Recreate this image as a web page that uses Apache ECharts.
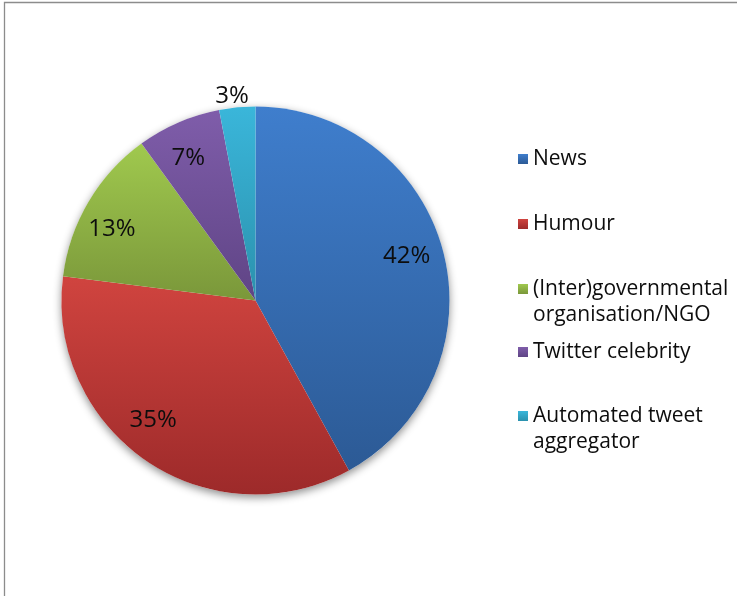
<!DOCTYPE html>
<html>
<head>
<meta charset="utf-8">
<script src="https://cdn.jsdelivr.net/npm/echarts@6/dist/echarts.min.js"></script>
<style>
  html, body { margin: 0; padding: 0; background: #fff; overflow: hidden; }
  #chart { width: 737px; height: 596px; }
</style>
</head>
<body>
<div id="chart"></div>
<script>
// Account types and their share of the sample (%)
const categories = [
  'News',
  'Humour',
  '(Inter)governmental\norganisation/NGO',
  'Twitter celebrity',
  'Automated tweet\naggregator'
];
const shares = [42, 35, 13, 7, 3];

// Slice fills: vertical gradient, lighter at the top of each slice
const sliceTop = ['#3f7ecd', '#d0443f', '#a0c94e', '#7f5daa', '#3ab6da'];
const sliceBottom = ['#2c5a95', '#9d2a2a', '#7a973a', '#5f4485', '#2b91ad'];

// Pie geometry
const CX = 255.5, CY = 300.5, R = 194;

// Percentage labels: distance from the centre (fraction of R) and small nudges
const labelDist = [0.81, 0.81, 0.83, 0.82, 1.067];
const labelNudge = [[-1, -5], [-14, -10], [-5, 11], [-4, 4], [-4, 2]];

// Legend rows: top edge of each entry
const legendTops = [146, 211, 250, 339, 377];

const total = shares.reduce((a, b) => a + b, 0);
const starts = [];
shares.reduce((acc, v) => { starts.push(acc); return acc + v; }, 0);

function sliceFill(i) {
  return new echarts.graphic.LinearGradient(0, 0, 0, 1, [
    { offset: 0, color: sliceTop[i] },
    { offset: 1, color: sliceBottom[i] }
  ]);
}

const pieData = categories.map((name, i) => ({
  name: name,
  value: shares[i],
  itemStyle: { color: sliceFill(i) },
  label: { position: shares[i] < 5 ? 'outside' : 'inside' }
}));

const textFont = { fontFamily: 'Open Sans', color: '#0d0d0d' };

// Wrapped entries keep their marker level with the first line of text
function legendText(name) {
  return name.indexOf('\n') >= 0 ? '\n' + name : name;
}

const legends = categories.map((name, i) => ({
  show: true,
  orient: 'vertical',
  left: 518,
  top: legendTops[i],
  padding: 0,
  itemWidth: 10,
  itemHeight: 10,
  icon: 'rect',
  selectedMode: false,
  formatter: legendText,
  textStyle: Object.assign({ fontSize: 21, lineHeight: 26 }, textFont),
  data: [name]
}));

const chart = echarts.init(document.getElementById('chart'), null, { renderer: 'canvas' });

chart.setOption({
  backgroundColor: '#ffffff',
  animation: false,
  graphic: [{
    type: 'rect',
    silent: true,
    shape: { x: 4.5, y: 2.5, width: 800, height: 700 },
    style: { fill: 'none', stroke: '#8c8c8c', lineWidth: 1.3 }
  }],
  legend: legends,
  series: [
    {
      // soft drop shadow under the whole pie
      type: 'pie',
      silent: true,
      z: 1,
      center: [CX, CY],
      radius: R,
      label: { show: false },
      labelLine: { show: false },
      itemStyle: {
        color: '#ffffff',
        shadowBlur: 9,
        shadowOffsetY: 3,
        shadowColor: 'rgba(0,0,0,0.45)'
      },
      data: [{ value: 1, name: '' }]
    },
    {
      type: 'pie',
      z: 2,
      center: [CX, CY],
      radius: R,
      startAngle: 90,
      clockwise: true,
      avoidLabelOverlap: false,
      emphasis: { disabled: true },
      itemStyle: { borderWidth: 0 },
      label: Object.assign({
        show: true,
        formatter: '{c}%',
        fontSize: 24
      }, textFont),
      labelLine: { show: false, length: 0, length2: 0 },
      labelLayout: function (p) {
        const i = p.dataIndex;
        const mid = (starts[i] + shares[i] / 2) / total * Math.PI * 2;
        const d = labelDist[i] * R;
        return {
          x: CX + Math.sin(mid) * d + labelNudge[i][0],
          y: CY - Math.cos(mid) * d + labelNudge[i][1],
          align: 'center',
          verticalAlign: 'middle'
        };
      },
      data: pieData
    }
  ]
});
</script>
</body>
</html>
